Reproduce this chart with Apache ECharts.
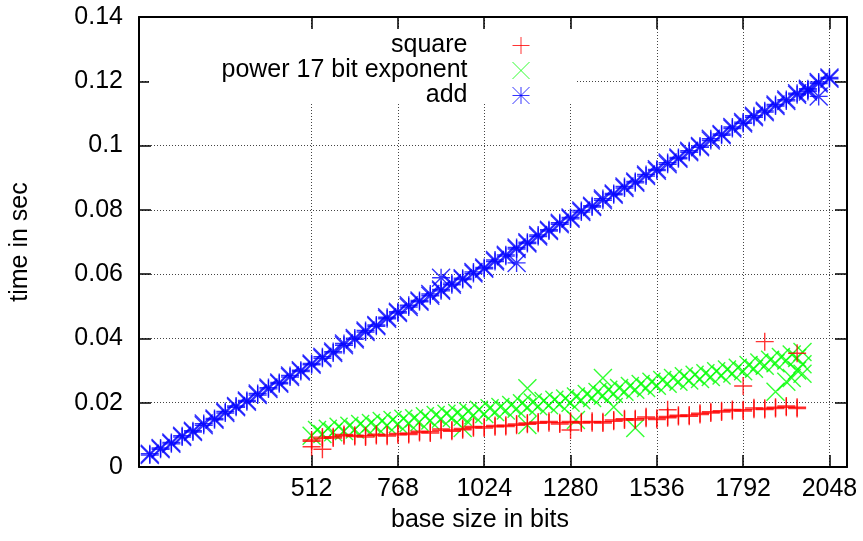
<!DOCTYPE html>
<html>
<head>
<meta charset="utf-8">
<script src="https://cdn.jsdelivr.net/npm/echarts@6/dist/echarts.min.js"></script>
<style>html,body{margin:0;padding:0;background:#fff}#c{width:863px;height:541px}</style>
</head>
<body>
<div id="c"></div>
<script>
// ---- data ----
const xTickValues = [512, 768, 1024, 1280, 1536, 1792, 2048];
const seriesNames = ['square', 'power 17 bit exponent', 'add'];

const addBits = [32,64,96,128,160,192,224,256,288,320,352,384,416,448,480,512,
  544,576,608,640,672,704,736,768,800,832,864,896,928,960,992,1024,
  1056,1088,1120,1152,1184,1216,1248,1280,1312,1344,1376,1408,1440,1472,1504,1536,
  1568,1600,1632,1664,1696,1728,1760,1792,1824,1856,1888,1920,1952,1984,2016,2048];
const addTime = [0.0037,0.0055,0.0076,0.0093,0.0113,0.0130,0.0151,0.0168,0.0186,0.0207,0.0224,0.0243,0.0263,0.0280,0.0301,0.0318,
  0.0338,0.0359,0.0379,0.0401,0.0420,0.0442,0.0461,0.0483,0.0498,0.0518,0.0533,0.0552,0.0567,0.0587,0.0602,0.0621,
  0.0639,0.0660,0.0678,0.0699,0.0717,0.0738,0.0755,0.0776,0.0793,0.0813,0.0830,0.0851,0.0868,0.0888,0.0905,0.0926,
  0.0942,0.0963,0.0979,0.0999,0.1016,0.1036,0.1053,0.1073,0.1088,0.1108,0.1123,0.1143,0.1158,0.1177,0.1193,0.1212];
const addTime2 = [0.0041,0.0059,0.0072,0.0097,0.0109,0.0135,0.0147,0.0173,0.0190,0.0203,0.0229,0.0247,0.0259,0.0285,0.0297,0.0322,
  0.0343,0.0355,0.0384,0.0397,0.0425,0.0438,0.0466,0.0479,0.0503,0.0514,0.0538,0.0548,0.0572,0.0583,0.0607,0.0617,
  0.0644,0.0656,0.0683,0.0695,0.0722,0.0734,0.0760,0.0772,0.0798,0.0809,0.0835,0.0847,0.0873,0.0884,0.0910,0.0922,
  0.0947,0.0959,0.0984,0.0995,0.1021,0.1032,0.1058,0.1069,0.1093,0.1104,0.1128,0.1139,0.1163,0.1173,0.1198,0.1208];
const addExtraBits = [896, 1120, 2016, 1984];
const addExtraTime = [0.0589, 0.0635, 0.1153, 0.1168];

const squareBits = [512,544,576,608,640,672,704,736,768,800,832,864,896,928,960,992,
  1024,1056,1088,1120,1152,1184,1216,1248,1280,1312,1344,1376,1408,1440,1472,1504,
  1536,1568,1600,1632,1664,1696,1728,1760,1792,1824,1856,1888,1920,1952];
const squareTime = [0.0084,0.0089,0.0094,0.0097,0.0095,0.0097,0.0098,0.0100,0.0100,0.0105,0.0107,0.0110,0.0114,0.0115,0.0120,0.0122,
  0.0125,0.0125,0.0130,0.0134,0.0137,0.0140,0.0138,0.0138,0.0138,0.0141,0.0138,0.0141,0.0146,0.0146,0.0150,0.0152,
  0.0152,0.0157,0.0157,0.0162,0.0167,0.0172,0.0175,0.0175,0.0178,0.0180,0.0183,0.0186,0.0186,0.0186];
const squareTime2 = [0.0080,0.0093,0.0090,0.0101,0.0099,0.0093,0.0102,0.0096,0.0104,0.0101,0.0111,0.0106,0.0118,0.0111,0.0116,0.0126,
  0.0121,0.0129,0.0126,0.0130,0.0133,0.0136,0.0142,0.0134,0.0142,0.0137,0.0142,0.0137,0.0142,0.0150,0.0146,0.0156,
  0.0148,0.0153,0.0161,0.0158,0.0163,0.0168,0.0171,0.0179,0.0174,0.0184,0.0179,0.0182,0.0190,0.0182];
const squareExtraBits = [512, 544, 1280, 1568, 1792, 1856, 1952];
const squareExtraTime = [0.0063, 0.0055, 0.0115, 0.0178, 0.0252, 0.0390, 0.0354];

const powerBits = [512,528,544,560,576,592,608,624,640,656,672,688,704,720,736,752,
  768,784,800,816,832,848,864,880,896,912,928,944,960,976,992,1008,
  1024,1040,1056,1072,1088,1104,1120,1136,1152,1168,1184,1200,1216,1232,1248,1264,
  1280,1296,1312,1328,1344,1360,1376,1392,1408,1424,1440,1456,1472,1488,1504,1520,
  1536,1552,1568,1584,1600,1616,1632,1648,1664,1680,1696,1712,1728,1744,1760,1776,
  1792,1808,1824,1840,1856,1872,1888,1904,1920,1936,1952,1968];
const powerTime = [0.0097,0.0115,0.0103,0.0119,0.0108,0.0125,0.0112,0.0128,0.0117,0.0134,0.0121,0.0137,0.0125,0.0143,0.0130,0.0146,
  0.0134,0.0150,0.0137,0.0152,0.0140,0.0158,0.0145,0.0162,0.0150,0.0166,0.0153,0.0168,0.0156,0.0173,0.0161,0.0178,
  0.0165,0.0183,0.0171,0.0187,0.0176,0.0193,0.0181,0.0198,0.0186,0.0201,0.0189,0.0205,0.0192,0.0209,0.0196,0.0213,
  0.0200,0.0219,0.0208,0.0227,0.0215,0.0233,0.0222,0.0240,0.0228,0.0246,0.0234,0.0252,0.0240,0.0258,0.0246,0.0265,
  0.0253,0.0271,0.0259,0.0277,0.0265,0.0282,0.0269,0.0287,0.0274,0.0292,0.0280,0.0298,0.0285,0.0303,0.0291,0.0309,
  0.0298,0.0317,0.0306,0.0325,0.0315,0.0334,0.0323,0.0342,0.0331,0.0350,0.0339,0.0358];
const powerExtraBits = [960, 1152, 1152, 1296, 1376, 1408, 1472, 1888, 1920, 1936, 1952, 1968, 1968];
const powerExtraTime = [0.0121, 0.0245, 0.0131, 0.0146, 0.0277, 0.0187, 0.0121, 0.0234, 0.0265, 0.0277, 0.0300, 0.0290, 0.0320];

// ---- chart ----
function pairs(xs, ys) { return xs.map((x, i) => [x, ys[i]]); }
const PLUS = 'path://M0,5H10M5,0V10';
const CROSS = 'path://M0,0L10,10M10,0L0,10';
const STAR = 'path://M0,5H10M5,0V10M0,0L10,10M10,0L0,10';
const FONT = 'Liberation Sans';
const FS = 25;

const chart = echarts.init(document.getElementById('c'), null, {renderer: 'canvas'});

function mkSeries(name, sym, color, data, z) {
  return {
    name: name, type: 'scatter', data: data, symbol: sym, symbolSize: 18, z: z,
    itemStyle: {color: color, borderColor: color, borderWidth: 1.4},
    emphasis: {disabled: true}, animation: false
  };
}

const axisLineStyle = {color: '#000', width: 2};
const tickStyle = {color: '#000', width: 1.5};
const gridStyle = {color: '#444', width: 1, type: [1, 2]};

chart.setOption({
  animation: false,
  textStyle: {fontFamily: FONT},
  grid: {left: 137, top: 17, right: 16, bottom: 74, containLabel: false},
  legend: {
    orient: 'vertical', align: 'right', right: 328, top: 28,
    itemWidth: 17, itemHeight: 17, itemGap: 0, selectedMode: false,
    data: seriesNames,
    textStyle: {fontSize: FS, lineHeight: 25, color: '#000', fontFamily: FONT, padding: [0, 40, 0, 0]},
    itemStyle: {borderWidth: 1}
  },
  xAxis: [{
    type: 'value', min: 0, max: 2100, position: 'bottom',
    name: 'base size in bits', nameLocation: 'middle', nameGap: 41,
    nameTextStyle: {fontSize: FS, color: '#000', fontFamily: FONT, padding: [0, 26, 0, 0]},
    axisLine: {show: true, onZero: false, lineStyle: axisLineStyle},
    axisTick: {show: true, inside: true, length: 12, lineStyle: tickStyle, customValues: xTickValues},
    axisLabel: {fontSize: FS, color: '#000', margin: 10, fontFamily: FONT, customValues: xTickValues,
                formatter: v => String(v)},
    splitLine: {show: true, lineStyle: gridStyle}
  }, {
    type: 'value', min: 0, max: 2100, position: 'top',
    axisLine: {show: true, onZero: false, lineStyle: axisLineStyle},
    axisTick: {show: true, inside: true, length: 12, lineStyle: tickStyle, customValues: xTickValues},
    axisLabel: {show: false, customValues: xTickValues},
    splitLine: {show: false}
  }],
  yAxis: [{
    type: 'value', min: 0, max: 0.14, interval: 0.02, position: 'left',
    name: 'time in sec', nameLocation: 'middle', nameGap: 106, nameRotate: 90,
    nameTextStyle: {fontSize: FS, color: '#000', fontFamily: FONT},
    axisLine: {show: true, onZero: false, lineStyle: axisLineStyle},
    axisTick: {show: true, inside: true, length: 12, lineStyle: tickStyle},
    axisLabel: {fontSize: FS, color: '#000', margin: 16, fontFamily: FONT},
    splitLine: {show: true, lineStyle: gridStyle}
  }, {
    type: 'value', min: 0, max: 0.14, interval: 0.02, position: 'right',
    axisLine: {show: true, onZero: false, lineStyle: axisLineStyle},
    axisTick: {show: true, inside: true, length: 12, lineStyle: tickStyle},
    axisLabel: {show: false},
    splitLine: {show: false}
  }],
  graphic: [{
    type: 'rect', z: 1, silent: true,
    shape: {x: 149, y: 29, width: 426, height: 73},
    style: {fill: '#fff'}
  }],
  series: [
    mkSeries(seriesNames[0], PLUS, '#ff0000',
      pairs(squareBits, squareTime).concat(pairs(squareBits, squareTime2), pairs(squareExtraBits, squareExtraTime)), 4),
    mkSeries(seriesNames[1], CROSS, '#00ff00',
      pairs(powerBits, powerTime).concat(pairs(powerExtraBits, powerExtraTime)), 3),
    mkSeries(seriesNames[2], STAR, '#0000ff',
      pairs(addBits, addTime).concat(pairs(addBits, addTime2), pairs(addExtraBits, addExtraTime)), 3)
  ]
});
</script>
</body>
</html>
